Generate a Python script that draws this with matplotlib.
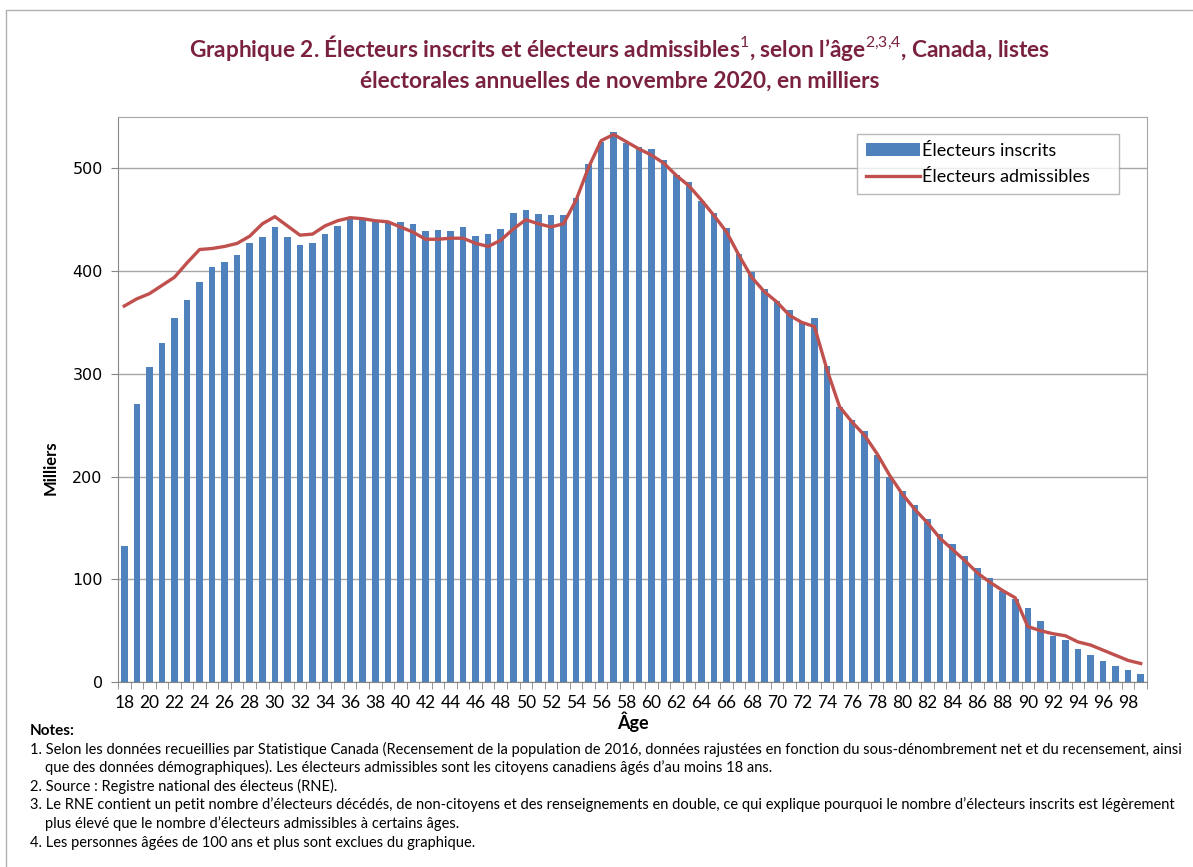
import numpy as np
import matplotlib.pyplot as plt
from matplotlib.patches import Rectangle

# ages 18..99
ages = list(range(18, 100))

inscrits = [132, 271, 307, 330, 354, 372, 389, 404, 409, 416,
            427, 433, 443, 433, 425, 427, 436, 444, 451, 450,
            448, 448, 448, 446, 439, 440, 439, 443, 434, 436,
            441, 457, 459, 456, 455, 455, 471, 504, 526, 535,
            525, 521, 519, 508, 494, 487, 468, 457, 442, 417,
            399, 383, 371, 362, 350, 354, 308, 268, 255, 244,
            221, 200, 186, 172, 159, 144, 134, 123, 111, 101,
            89, 81, 72, 59, 45, 41, 32, 26, 20, 16, 12, 8]

admissibles = [366, 373, 378, 386, 394, 408, 421, 422, 424, 427,
               434, 446, 453, 444, 435, 436, 444, 449, 452, 451,
               449, 448, 443, 438, 431, 431, 432, 432, 427, 424,
               430, 441, 450, 446, 443, 446, 469, 501, 527, 533,
               526, 519, 513, 505, 493, 483, 469, 454, 438, 415,
               394, 380, 370, 357, 350, 346, 304, 268, 253, 240,
               222, 201, 183, 168, 155, 140, 129, 118, 106, 97,
               89, 82, 54, 50, 47, 45, 39, 36, 31, 26, 21, 18]

title = ("Graphique 2. Électeurs inscrits et électeurs admissibles$^{1}$, selon l\u2019âge$^{2{,}3{,}4}$, Canada, listes\n"
         "électorales annuelles de novembre 2020, en milliers")

notes = [
    "1. Selon les données recueillies par Statistique Canada (Recensement de la population de 2016, données rajustées en fonction du sous-dénombrement net et du recensement, ainsi",
    "    que des données démographiques). Les électeurs admissibles sont les citoyens canadiens âgés d\u2019au moins 18 ans.",
    "2. Source : Registre national des électeus (RNE).",
    "3. Le RNE contient un petit nombre d\u2019électeurs décédés, de non-citoyens et des renseignements en double, ce qui explique pourquoi le nombre d\u2019électeurs inscrits est légèrement",
    "    plus élevé que le nombre d\u2019électeurs admissibles à certains âges.",
    "4. Les personnes âgées de 100 ans et plus sont exclues du graphique.",
]

plt.rcParams['font.family'] = ['Lato', 'DejaVu Sans']
plt.rcParams['mathtext.fontset'] = 'custom'
plt.rcParams['mathtext.rm'] = 'Lato'
plt.rcParams['mathtext.bf'] = 'Lato:bold'

fig = plt.figure(figsize=(11.93, 8.67), dpi=100)
ax = fig.add_axes([118/1193, 1 - 682/867, (1147-118)/1193, (682-117)/867])

x = np.arange(len(ages))
ax.bar(x, inscrits, width=0.52, color='#4F81BD', label='Électeurs inscrits', zorder=2)
ax.plot(x, admissibles, color='#C0504D', lw=2.4, label='Électeurs admissibles', zorder=3)

ax.set_xlim(-0.5, len(ages) - 0.5)
ax.set_ylim(0, 550)
ax.set_yticks(range(0, 501, 100))
ax.yaxis.grid(True, color='#a6a6a6', lw=1, zorder=0)
ax.set_xticks(x[::2])
ax.set_xticklabels([str(a) for a in ages[::2]], fontsize=12.5)
ax.set_xticks(np.arange(-0.5, len(ages), 1), minor=True)
ax.tick_params(axis='x', which='major', length=0, pad=9)
ax.tick_params(axis='x', which='minor', length=5, color='#868686')
ax.tick_params(axis='y', length=5, color='#868686', labelsize=11.5, pad=6)
for lab in ax.get_yticklabels():
    lab.set_family('DejaVu Sans')
for s in ax.spines.values():
    s.set_color('#a6a6a6')
ax.spines['left'].set_color('#868686')
ax.spines['bottom'].set_color('#868686')

ax.set_ylabel('Milliers', fontsize=12, fontweight='bold')
ax.yaxis.set_label_coords(-0.058, 0.38)
ax.set_xlabel('Âge', fontsize=13, fontweight='bold', labelpad=1)

handles, labels = ax.get_legend_handles_labels()
leg = ax.legend(handles[::-1], labels[::-1], loc='upper left',
                bbox_to_anchor=((848-118)/1029, 1 - (190-117)/565, (1128-848)/1029, (255-190)/565),
                mode='expand', fontsize=13, frameon=True, fancybox=False, handlelength=3.0, handletextpad=0.1,
                borderpad=0.5, labelspacing=0.55)
leg.get_frame().set_edgecolor('#a6a6a6')
leg.get_frame().set_linewidth(1)
leg._legend_box.align = 'right'

fig.text(620/1193, 1 - 62/867, title, ha='center', va='center', fontsize=16.3, fontweight='bold',
         color='#7a2040', linespacing=1.45)

fig.text(30/1193, 1 - 731/867, 'Notes:', fontsize=11, fontweight='bold', va='center')
ys = [749, 767, 786, 805, 824, 843]
texts = [fig.text(30/1193, 1 - yy/867, t, fontsize=11, va='center') for t, yy in zip(notes, ys)]

# shrink the notes so the longest line fits the width of the reference
r = fig.canvas.get_renderer()
w = max(t.get_window_extent(r).width for t in texts)
fs = 11 * 1150 / w
for t in texts:
    t.set_fontsize(fs)

fig.patches.append(Rectangle((6/1193, -0.01), 1.0, 1 - 0.002, transform=fig.transFigure,
                             fill=False, edgecolor='#b0b0b0', lw=1))

fig.savefig('out.png', dpi=100)
